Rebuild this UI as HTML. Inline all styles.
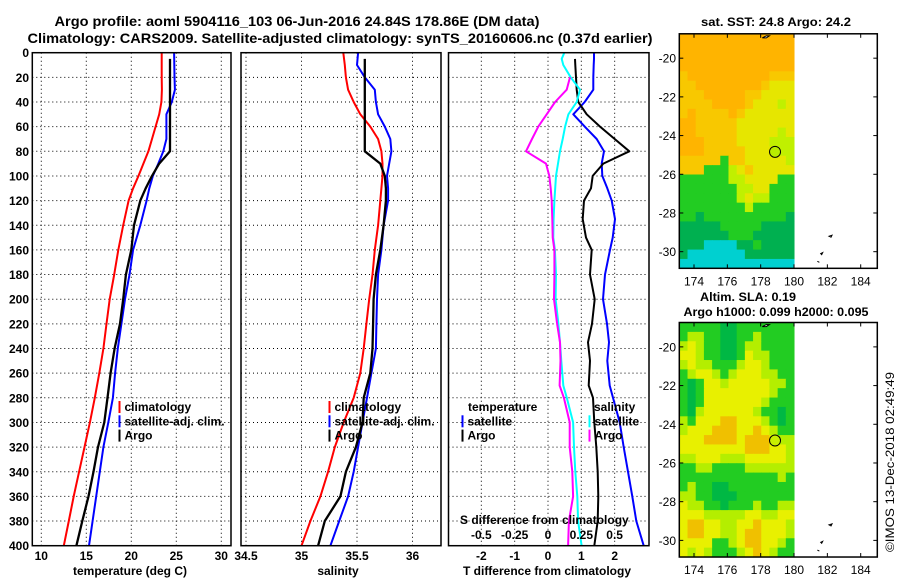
<!DOCTYPE html>
<html><head><meta charset="utf-8"><style>
html,body{margin:0;padding:0;background:#fff;}
svg{display:block;font-family:"Liberation Sans",sans-serif;font-weight:bold;}
</style></head><body>
<svg id="chart" width="900" height="580" viewBox="0 0 900 580" xmlns="http://www.w3.org/2000/svg">
<rect x="0" y="0" width="900" height="580" fill="#fff"/>
<text x="297" y="26" font-size="14" text-anchor="middle" textLength="485" lengthAdjust="spacingAndGlyphs">Argo profile: aoml 5904116_103 06-Jun-2016 24.84S 178.86E (DM data)</text>
<text x="340" y="43" font-size="14" text-anchor="middle" textLength="625" lengthAdjust="spacingAndGlyphs">Climatology: CARS2009. Satellite-adjusted climatology: synTS_20160606.nc (0.37d earlier)</text>
<g id="plots"></g>
<g id="maps"></g>
<text x="776" y="26" font-size="12" text-anchor="middle" textLength="150" lengthAdjust="spacingAndGlyphs">sat. SST: 24.8 Argo: 24.2</text>
<text x="748" y="301" font-size="12" text-anchor="middle" textLength="96" lengthAdjust="spacingAndGlyphs">Altim. SLA: 0.19</text>
<text x="776" y="316" font-size="12" text-anchor="middle" textLength="185" lengthAdjust="spacingAndGlyphs">Argo h1000: 0.099 h2000: 0.095</text>
<text transform="translate(894,462) rotate(-90)" font-size="12" font-weight="normal" text-anchor="middle" textLength="180" lengthAdjust="spacingAndGlyphs">©IMOS 13-Dec-2018 02:49:49</text>
</svg>
<script>
// ---------- profile data ----------
const depths = [0,10,20,30,40,50,60,70,80,90,100,110,120,140,160,180,200,220,240,260,280,300,320,340,360,380,400];
const argoDepths = [5,10,20,30,40,50,60,70,80,90,100,110,120,140,160,180,200,220,240,260,280,300,320,340,360,380,400];
const tempClim = [23.38,23.38,23.38,23.4,23.35,23.1,22.7,22.3,21.9,21.35,20.8,20.2,19.7,19.1,18.55,18.1,17.6,17.25,16.9,16.45,15.95,15.4,14.8,14.2,13.6,13.05,12.5];
const tempSat = [24.75,24.78,24.8,24.85,24.5,23.9,23.9,23.9,23.55,23.0,22.4,22.0,21.7,21.0,20.2,19.8,19.3,18.9,18.5,18.2,17.96,17.45,16.9,16.5,16.1,15.7,15.3];
const tempArgo = [24.3,24.3,24.3,24.3,24.3,24.3,24.3,24.3,24.3,23.1,22.3,21.6,21.0,20.3,20.0,19.4,19.1,18.75,18.15,17.7,17.35,17.0,16.3,15.8,15.25,14.55,13.9];
const salClim = [35.377,35.39,35.40,35.42,35.47,35.53,35.62,35.69,35.72,35.73,35.73,35.72,35.71,35.69,35.66,35.64,35.61,35.585,35.56,35.53,35.47,35.38,35.30,35.24,35.17,35.08,35.0];
const salSat = [35.51,35.50,35.57,35.66,35.67,35.69,35.75,35.80,35.81,35.79,35.77,35.78,35.78,35.74,35.72,35.69,35.68,35.675,35.67,35.63,35.59,35.55,35.51,35.47,35.42,35.34,35.26];
const salArgo = [35.57,35.57,35.57,35.57,35.57,35.57,35.57,35.57,35.57,35.71,35.75,35.76,35.76,35.74,35.71,35.67,35.65,35.645,35.64,35.62,35.56,35.55,35.49,35.40,35.35,35.21,35.15];
const diffDepths = [0,5,10,20,30,40,50,60,70,80,90,100,110,120,135,150,160,180,200,220,235,250,270,280,300,320,340,360,380,400];
const tDiffSat = [1.38,1.38,1.37,1.36,1.36,1.1,0.76,1.1,1.46,1.68,1.61,1.63,1.78,1.91,2.01,1.94,1.86,1.71,1.65,1.77,1.83,1.78,1.85,1.95,2.15,2.27,2.40,2.53,2.65,2.87];
const tDiffArgo = [null,0.81,0.82,0.84,0.86,0.91,1.16,1.56,2.0,2.44,1.66,1.34,1.29,1.08,1.04,1.14,1.31,1.26,1.40,1.32,1.2,1.26,1.22,1.35,1.39,1.45,1.49,1.51,1.49,1.39];
const sDiffSat = [0.122,0.103,0.115,0.17,0.24,0.215,0.153,0.128,0.11,0.09,0.075,0.06,0.054,0.048,0.042,0.04,0.052,0.06,0.057,0.078,0.09,0.1,0.115,0.141,0.188,0.195,0.205,0.22,0.226,0.252];
const sDiffArgo = [null,null,null,0.165,0.14,0.053,-0.01,-0.073,-0.12,-0.165,-0.015,0.01,0.02,0.028,0.032,0.035,0.048,0.048,0.045,0.068,0.09,0.094,0.087,0.119,0.163,0.163,0.182,0.188,0.157,0.151];
const depthTicks = [0,20,40,60,80,100,120,140,160,180,200,220,240,260,280,300,320,340,360,380,400];
const tempTicks = [10,15,20,25,30];
const salTicks = [34.5,35,35.5,36];
const salTickLabels = ["34.5","35","35.5","36"];
const tDiffTicks = [-2,-1,0,1,2];
const sDiffTicks = [-0.5,-0.25,0,0.25,0.5];
const sDiffTickLabels = ["-0.5","-0.25","0","0.25","0.5"];

// ---------- map data ----------
const sstLonRange = [173.12,180];
const mapLatRange = [-18.74,-30.86];
const sstGrid = [
"OOOOOOOOOOOOOO","OOOOOOOOOOOOOO","OOOOOOOOOOOOOO","OOOOOOOOOOOOOO",
"AOOOOOOOOOOAAA","AAOOOOOOOOAYYY","AAAOOOOOAAYYYY","AAAAOOOOAYYYLY",
"AOAAAAOAYYYYYY","OOAAAAAYYYYYYY","OOAAAAAYYYYYLY","OOOAAAAYYYYLLL",
"OOOAAAAAYYYYLL","AAAAAGAAYYYYYL","AAAGGGLYAYYYYY","GGGGGGLLYYYYGG",
"GGGGGGGLLYYGGG","GGGGGGGLYLLGGG","GGGGGGGGLGGGGG","GGDGGGGGGGGGGD",
"DDDDDGGGGGDDDD","DDDDDDGGGDDDDD","DDDCCCCDDGDDDD","DCCCCCCCDDDDDD","CCCCCCCCCCCCCC"];
const slaGrid = [
"GGGGGDDGGGGGGG","GLLGGDDGGLGGGG","LYLGGDDGLLGGGG","YYLGGDDGYLLGGG",
"LYLLGGGLYYLGGG","GLYYLGLYYYLLGG","GDGYYLYYYYYLLG","GDGYYYYYYYYLGG",
"GDGYYYYYYYLGGG","GDLYYYYYYLGGDG","LGYYYOOYYYLGDG","LYYYOOOYYOYLGG",
"YYYOOOOYOOOYLL","YYYYYYYYOOOYYL","LLYYYLLLYYYYYL","GGLLGGGGLLLLLL",
"GGGGGGGGGGGGLG","GLGGDDGGGGGGGG","LLGGDDDGGGGGGG","YLLGGDGGGLGGLL",
"YYYLLLLLYYLLYY","YOOYYLLYYOYYYL","YOOYYLLYOOYYYL","YYYYGGLYOOYYLG","YLYLGGGLYOYLGG"];
const mapLonTicks = [174,176,178,180,182,184];
const mapLatTicks = [-20,-22,-24,-26,-28,-30];
const argoPos = [178.86,-24.84];

const NS = "http://www.w3.org/2000/svg";
function mk(tag, attrs, parent){const e=document.createElementNS(NS,tag);for(const k in attrs)e.setAttribute(k,attrs[k]);parent.appendChild(e);return e;}
const plots = document.getElementById('plots');
const maps = document.getElementById('maps');

const yD = d => 52.7 + d*1.2325;
const xT = t => 32.3 + (t-9)*9;
const xS = s => 301.5 + (s-35)*111;
const xTd = v => 548 + v*33.33;
const xSd = v => 548 + v*133.3;

const panels = [
 {name:'temperature-panel', x0:32.3, x1:231},
 {name:'salinity-panel', x0:241, x1:441},
 {name:'difference-panel', x0:448.5, x1:649}
];

function drawGrid(p, xs){
  const g = mk('g',{},plots);
  
  
  depthTicks.forEach(d=>{ if(d>0&&d<400) mk('line',{x1:p.x0,x2:p.x1,y1:yD(d),y2:yD(d),stroke:'#000','stroke-width':1,'stroke-dasharray':'1,3'},g); });
  xs.forEach(x=>{ mk('line',{x1:x,x2:x,y1:yD(0),y2:yD(400),stroke:'#000','stroke-width':1,'stroke-dasharray':'1,3'},g); });
}
drawGrid(panels[0], tempTicks.map(xT));
drawGrid(panels[1], salTicks.map(xS));
drawGrid(panels[2], tDiffTicks.map(xTd));

function line(vals, ds, xf, color, w, name){
  let pts=[];
  vals.forEach((v,i)=>{ if(v!==null) pts.push(xf(v).toFixed(1)+','+yD(ds[i]).toFixed(1)); });
  const e = mk('polyline',{points:pts.join(' '),fill:'none',stroke:color,'stroke-width':w,'stroke-linejoin':'round'},plots);
  
  
}
line(tempClim, depths, xT, '#f00', 2, 'temp-climatology-line');
line(tempSat, depths, xT, '#00f', 2, 'temp-satellite-line');
line(tempArgo, argoDepths, xT, '#000', 2.3, 'temp-argo-line');
line(salClim, depths, xS, '#f00', 2, 'sal-climatology-line');
line(salSat, depths, xS, '#00f', 2, 'sal-satellite-line');
line(salArgo, argoDepths, xS, '#000', 2.3, 'sal-argo-line');
line(tDiffSat, diffDepths, xTd, '#00f', 2, 'tdiff-satellite-line');
line(tDiffArgo, diffDepths, xTd, '#000', 2, 'tdiff-argo-line');
line(sDiffSat, diffDepths, xSd, '#0ff', 2, 'sdiff-satellite-line');
line(sDiffArgo, diffDepths, xSd, '#f0f', 2, 'sdiff-argo-line');

panels.forEach(p=>{
  const r = mk('rect',{x:p.x0,y:yD(0),width:p.x1-p.x0,height:yD(400)-yD(0),fill:'none',stroke:'#000','stroke-width':1.5},plots);
  
  
});

function txt(x,y,s,size,anchor,name,color){
  const t = mk('text',{x:x,y:y,'font-size':size,'text-anchor':anchor||'start',fill:color||'#000'},plots);
  t.textContent = s;
  
  
  return t;
}
depthTicks.forEach(d=>{ txt(29, yD(d)+4.5, String(d), 12, 'end', 'depth-tick-label'); });
tempTicks.forEach(t=>{ txt(xT(t), 560, String(t), 12, 'middle', 'temp-tick-label'); });
salTicks.forEach((s,i)=>{ txt(xS(s), 560, salTickLabels[i], 12, 'middle', 'sal-tick-label'); });
tDiffTicks.forEach(v=>{ txt(xTd(v), 560, String(v), 12, 'middle', 'tdiff-tick-label'); });
sDiffTicks.forEach((v,i)=>{ txt(xSd(v/4*4), 539, sDiffTickLabels[i], 12, 'middle', 'sdiff-tick-label'); });
txt(130, 575, 'temperature (deg C)', 12, 'middle', 'temp-axis-title');
txt(338, 575, 'salinity', 12, 'middle', 'sal-axis-title');
txt(547, 575, 'T difference from climatology', 12, 'middle', 'tdiff-axis-title');
txt(460, 524, 'S difference from climatology', 12, 'start', 'sdiff-axis-title');

function legend(x, y, entries, prefix){
  entries.forEach((e,i)=>{
    const yy = y + i*14.3;
    const b = mk('rect',{x:x,y:yy-10,width:2,height:12,fill:e[1]},plots);
    
    
    txt(x+6, yy, e[0], 12, 'start', prefix+'-legend-entry');
  });
}
legend(118.5, 411, [['climatology','#f00'],['satellite-adj. clim.','#00f'],['Argo','#000']], 'temp');
legend(328.5, 411, [['climatology','#f00'],['satellite-adj. clim.','#00f'],['Argo','#000']], 'sal');
txt(468, 411, 'temperature', 12, 'start', 'tdiff-legend-header');
legend(461.5, 425.3, [['satellite','#00f'],['Argo','#000']], 'tdiff');
txt(594, 411, 'salinity', 12, 'start', 'sdiff-legend-header');
legend(588.5, 425.3, [['satellite','#0ff'],['Argo','#f0f']], 'sdiff');

// ---------- maps ----------
const sstColors = {O:'#ffb400',A:'#f8c800',Y:'#e6e600',L:'#c0f000',G:'#22cc22',D:'#00b050',C:'#00d0d0'};
const slaColors = {O:'#f0c000',Y:'#e8f000',L:'#b4ee00',G:'#22cc22',D:'#00b844'};
function drawMap(top, grid, colors, name, markerFill){
  const lonX = lon => 694 + (lon-174)*16.67;
  const latY = lat => top + (mapLatRange[0]-lat)*19.35;
  const g = mk('g',{},maps);
  
  
  const rows = grid.length, cols = grid[0].length;
  const x0 = lonX(sstLonRange[0]), x1 = lonX(sstLonRange[1]);
  const y0 = latY(mapLatRange[0]), y1 = latY(mapLatRange[1]);
  const cw = (x1-x0)/cols, ch = (y1-y0)/rows;
  grid.forEach((row,r)=>{
    for(let c=0;c<cols;c++){
      const cell = mk('rect',{x:(x0+c*cw).toFixed(2),y:(y0+r*ch).toFixed(2),width:(cw+0.5).toFixed(2),height:(ch+0.5).toFixed(2),fill:colors[row[c]]},g);
      
      
    }
  });
  // small islands
  mk('path',{d:`M${lonX(178.1)} ${latY(-18.95)} l4 -2 l3 0 l-3 2 z`,fill:'#fff',stroke:'#000','stroke-width':1},g);
  mk('path',{d:`M${lonX(182.1)} ${latY(-29.2)} l3 -1 l-1 2 z M${lonX(181.6)} ${latY(-30.1)} l2 -1 l-1 2 z M${lonX(181.4)} ${latY(-30.5)} l2 1 z`,fill:'#fff',stroke:'#000','stroke-width':1},g);
  const frameX0 = 679.3, frameX1 = 877.3;
  const fr = mk('rect',{x:frameX0,y:y0,width:frameX1-frameX0,height:y1-y0,fill:'none',stroke:'#000','stroke-width':1.5},g);
  
  
  mapLonTicks.forEach(lon=>{
    const x = lonX(lon);
    mk('line',{x1:x,x2:x,y1:y0,y2:y0+4,stroke:'#000'},g);
    mk('line',{x1:x,x2:x,y1:y1,y2:y1-4,stroke:'#000'},g);
    const t = mk('text',{x:x,y:y1+17,'font-size':12,'text-anchor':'middle','font-weight':'normal'},g);
    t.textContent = String(lon);
    
    
  });
  mapLatTicks.forEach(lat=>{
    const y = latY(lat);
    mk('line',{x1:frameX0,x2:frameX0+4,y1:y,y2:y,stroke:'#000'},g);
    mk('line',{x1:frameX1,x2:frameX1-4,y1:y,y2:y,stroke:'#000'},g);
    const t = mk('text',{x:676,y:y+4.5,'font-size':12,'text-anchor':'end','font-weight':'normal'},g);
    t.textContent = String(lat);
    
    
  });
  const m = mk('circle',{cx:lonX(argoPos[0]),cy:latY(argoPos[1]),r:5.5,fill:markerFill,stroke:'#000','stroke-width':1},g);
  
  
}
drawMap(33.8, sstGrid, sstColors, 'sst-map', '#b8ec00');
drawMap(322.5, slaGrid, slaColors, 'sla-map', '#c8f000');
</script>
</body></html>
